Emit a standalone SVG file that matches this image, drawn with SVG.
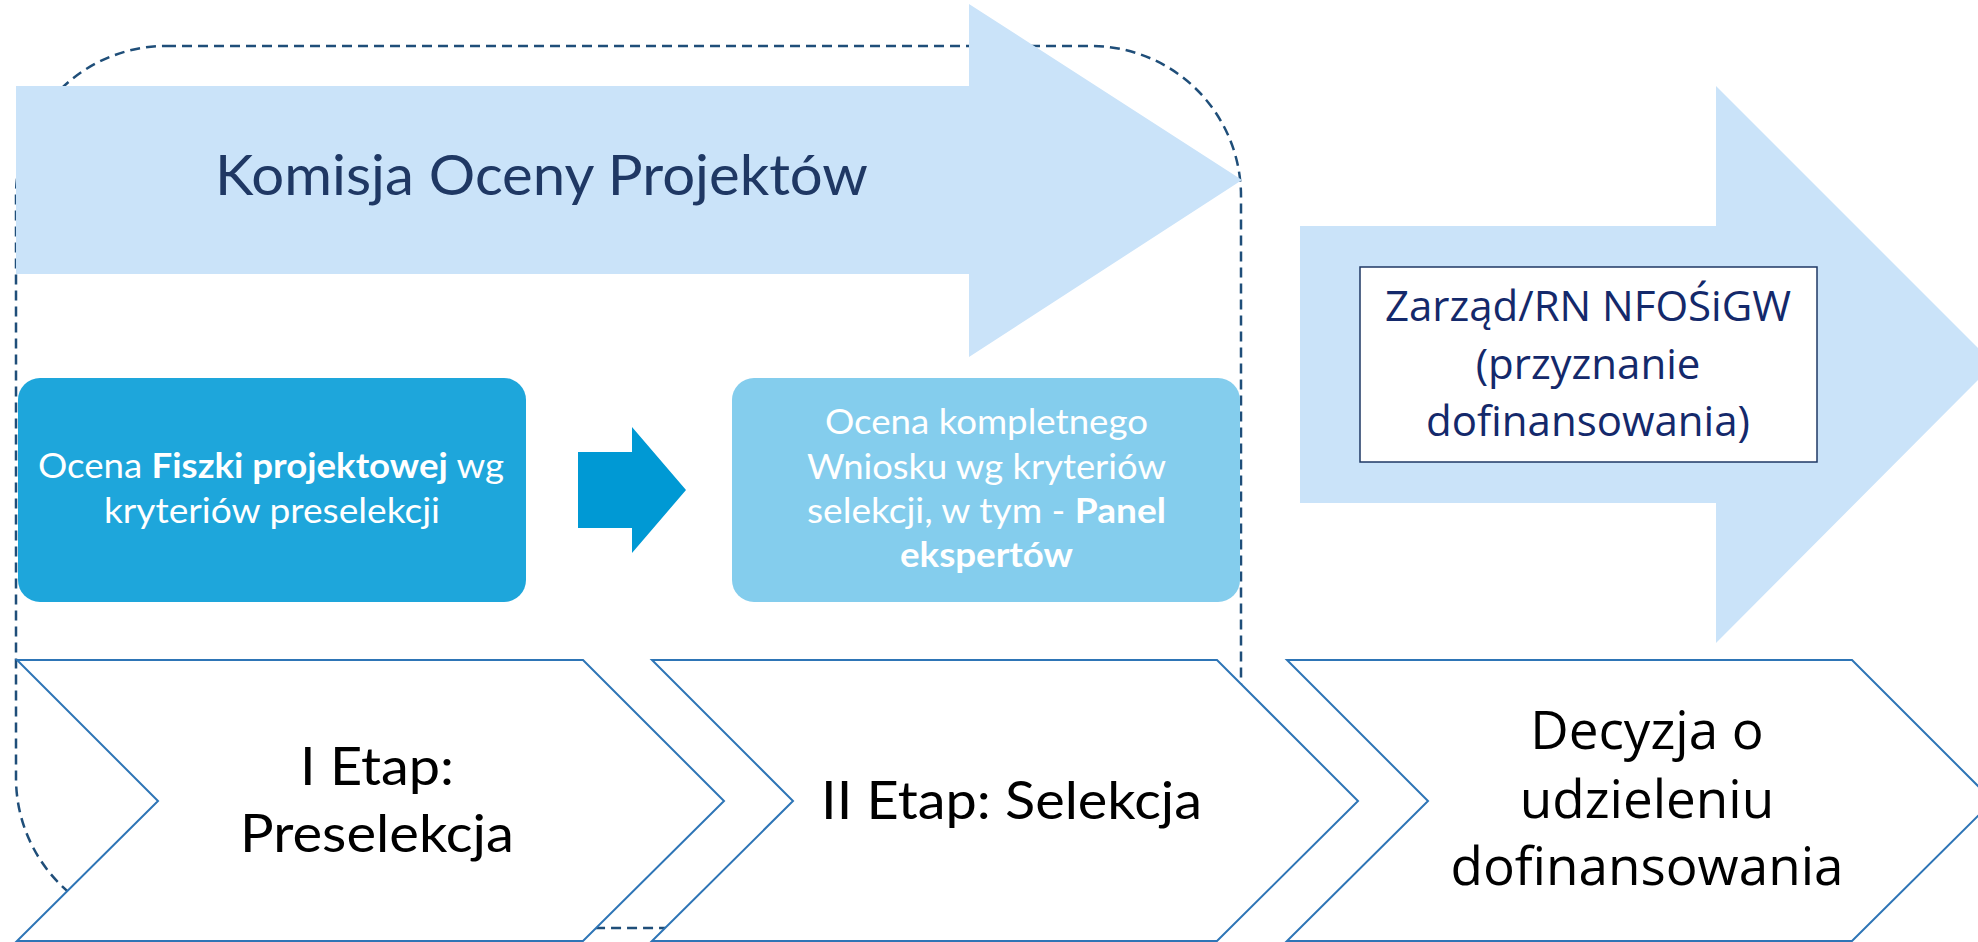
<svg xmlns="http://www.w3.org/2000/svg" width="1978" height="942" viewBox="0 0 1978 942">
<style>
.big{fill:#CAE3F9}
.cal{font-family:Lato,"Open Sans","Liberation Sans",sans-serif}
.seg{font-family:"Open Sans","Noto Sans","Liberation Sans",sans-serif}
.wt{fill:#FFFFFF;font-size:34px}
.chev{fill:#FFFFFF;stroke:#2E75B6;stroke-width:2}
.lbl{fill:#000000;font-size:53px}
</style>
<rect width="1978" height="942" fill="#FFFFFF"/>
<g id="connectors">
<rect id="frame" x="16" y="46" width="1225" height="882" rx="150" ry="150" fill="none" stroke="#1F4E79" stroke-width="2.5" stroke-dasharray="10 6"/>
</g>
<g id="komisja">
<path class="big" d="M16,86 H969 V4 L1242,180 L969,357 V274 H16 Z"/>
<text class="cal" x="215" y="195" font-size="57" fill="#1F3864" textLength="653" lengthAdjust="spacingAndGlyphs">Komisja Oceny Projektów</text>
</g>
<g id="box1">
<rect x="18" y="378" width="508" height="224" rx="22" ry="22" fill="#1EA6DB"/>
<text class="cal wt" x="38" y="478" textLength="466" lengthAdjust="spacingAndGlyphs">Ocena <tspan font-weight="bold">Fiszki projektowej</tspan> wg</text>
<text class="cal wt" x="104" y="523" textLength="336" lengthAdjust="spacingAndGlyphs">kryteriów preselekcji</text>
</g>
<g id="arrow-small">
<path d="M578,452 H632 V427 L686,490 L632,553 V528 H578 Z" fill="#0099D4"/>
</g>
<g id="box2">
<rect x="732" y="378" width="508" height="224" rx="22" ry="22" fill="#84CDED"/>
<text class="cal wt" x="825" y="434" textLength="323" lengthAdjust="spacingAndGlyphs">Ocena kompletnego</text>
<text class="cal wt" x="807" y="479" textLength="359" lengthAdjust="spacingAndGlyphs">Wniosku wg kryteriów</text>
<text class="cal wt" x="807" y="523" textLength="359" lengthAdjust="spacingAndGlyphs">selekcji, w tym - <tspan font-weight="bold">Panel</tspan></text>
<text class="cal wt" x="900" y="567" font-weight="bold" textLength="173" lengthAdjust="spacingAndGlyphs">ekspertów</text>
</g>
<g id="zarzad">
<path class="big" d="M1300,226 H1716 V86 L1994,364 L1716,643 V503 H1300 Z"/>
<rect x="1360" y="267" width="457" height="195" fill="#FFFFFF" stroke="#1F3864" stroke-width="1.5"/>
<text class="seg" x="1588" y="321" font-size="42" fill="#14296B" text-anchor="middle">Zarząd/RN NFOŚiGW</text>
<text class="seg" x="1588" y="379" font-size="42" fill="#14296B" text-anchor="middle">(przyznanie</text>
<text class="seg" x="1588" y="436" font-size="42" fill="#14296B" text-anchor="middle">dofinansowania)</text>
</g>
<g id="etap1">
<path class="chev" d="M17,660 H583 L724,801 L583,941 H17 L158,801 Z"/>
<text class="cal lbl" x="300" y="785" textLength="154" lengthAdjust="spacingAndGlyphs">I Etap:</text>
<text class="cal lbl" x="240" y="852" textLength="274" lengthAdjust="spacingAndGlyphs">Preselekcja</text>
</g>
<g id="etap2">
<path class="chev" d="M652,660 H1217 L1358,801 L1217,941 H652 L793,801 Z"/>
<text class="cal lbl" x="821" y="819" textLength="381" lengthAdjust="spacingAndGlyphs">II Etap: Selekcja</text>
</g>
<g id="decyzja">
<path class="chev" d="M1287,660 H1852 L1993,801 L1852,941 H1287 L1428,801 Z"/>
<text class="seg" x="1647" y="749" font-size="53" fill="#000000" text-anchor="middle">Decyzja o</text>
<text class="seg" x="1647" y="818" font-size="53" fill="#000000" text-anchor="middle">udzieleniu</text>
<text class="seg" x="1647" y="885" font-size="53" fill="#000000" text-anchor="middle">dofinansowania</text>
</g>
</svg>
